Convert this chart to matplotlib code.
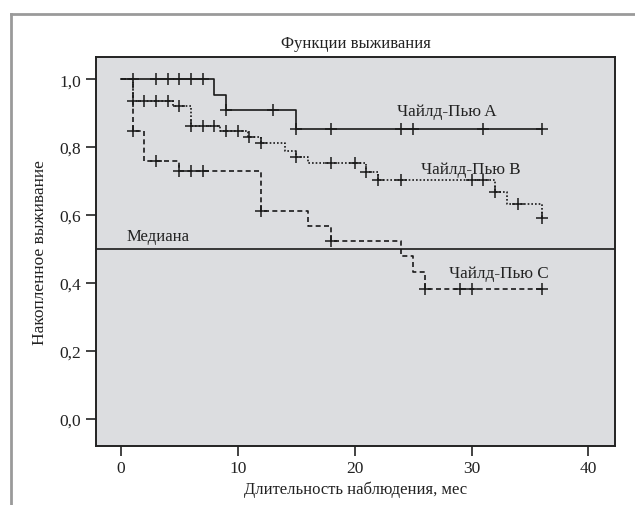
import numpy as np
import matplotlib.pyplot as plt
from matplotlib.lines import Line2D
from matplotlib.ticker import FuncFormatter

plt.rcParams['font.family'] = ['Liberation Serif', 'DejaVu Serif']

# Kaplan-Meier steps: time of change and survival after it
a_times = [0, 8, 9, 15]
a_surv = [1.0, 0.953, 0.909, 0.853]
a_end = 36
a_cens = [1, 3, 4, 5, 6, 7, 9, 13, 15, 18, 24, 25, 31, 36]

b_times = [0, 1, 4.5, 6, 8.5, 10.9, 12, 14, 15, 16, 21, 22, 32, 33, 36]
b_surv = [1.0, 0.935, 0.92, 0.862, 0.847, 0.831, 0.812, 0.788, 0.770, 0.753,
          0.727, 0.703, 0.668, 0.632, 0.591]
b_end = 36
b_cens = [1, 2, 3, 4, 5, 6, 7, 8, 9, 10, 11, 12, 15, 18, 20, 21, 22, 24, 30, 31, 32, 34, 36]

c_times = [0, 1, 2, 5, 12, 16, 18, 24, 25, 26]
c_surv = [1.0, 0.847, 0.759, 0.729, 0.612, 0.568, 0.524, 0.48, 0.432, 0.382]
c_end = 36
c_cens = [1, 3, 5, 6, 7, 12, 18, 26, 29, 30, 36]

labels = ['Чайлд-Пью A', 'Чайлд-Пью B', 'Чайлд-Пью C']
label_pos = [(27.9, 0.905), (29.9, 0.735), (32.3, 0.43)]
styles = ['-', (0, (1, 1.2)), (0, (3, 2))]

fig = plt.figure(figsize=(6.35, 5.06), dpi=100)
ax = fig.add_axes([0.151, 0.117, 0.818, 0.768])
ax.set_facecolor('#dcdde0')

groups = [(a_times, a_surv, a_end, a_cens),
          (b_times, b_surv, b_end, b_cens),
          (c_times, c_surv, c_end, c_cens)]

for (t, s, end, cens), ls in zip(groups, styles):
    tx = np.array(t + [end])
    sy = np.array(s + [s[-1]])
    ax.step(tx, sy, where='post', color='#1a1a1a', lw=1.2, linestyle=ls)
    idx = np.searchsorted(np.array(t), np.array(cens), side='right') - 1
    ax.plot(cens, np.array(s)[idx], linestyle='none', marker='+',
            ms=8.5, mew=1.1, color='#1a1a1a')

ax.axhline(0.5, color='#1a1a1a', lw=1.2)
ax.text(3.2, 0.537, 'Медиана', ha='center', va='center', fontsize=12, color='#222222')

for lab, (x, y) in zip(labels, label_pos):
    ax.text(x, y, lab, ha='center', va='center', fontsize=12.3, color='#222222')

ax.set_xlim(-2.14, 42.3)
ax.set_ylim(-0.08, 1.065)
ax.set_xticks([0, 10, 20, 30, 40])
ax.set_yticks([0.0, 0.2, 0.4, 0.6, 0.8, 1.0])
ax.yaxis.set_major_formatter(FuncFormatter(lambda v, p: f'{v:.1f}'.replace('.', ',')))
ax.tick_params(direction='out', length=7, width=1.2, labelsize=12.5, colors='#222222')
for sp in ax.spines.values():
    sp.set_linewidth(1.4)
    sp.set_color('#222222')

ax.set_title('Функции выживания', fontsize=12, color='#222222', pad=7)
ax.set_xlabel('Длительность наблюдения, мес', fontsize=12, color='#222222', labelpad=3)
ax.set_ylabel('Накопленное выживание', fontsize=12.5, color='#222222', labelpad=8)

# grey frame of the original figure panel
fig.add_artist(Line2D([11 / 635, 11 / 635], [0, 1 - 15 / 506], transform=fig.transFigure,
                      color='#9a9a9a', lw=2))
fig.add_artist(Line2D([11 / 635, 1], [1 - 15 / 506, 1 - 15 / 506], transform=fig.transFigure,
                      color='#9a9a9a', lw=2))

fig.savefig('out.png', dpi=100)
